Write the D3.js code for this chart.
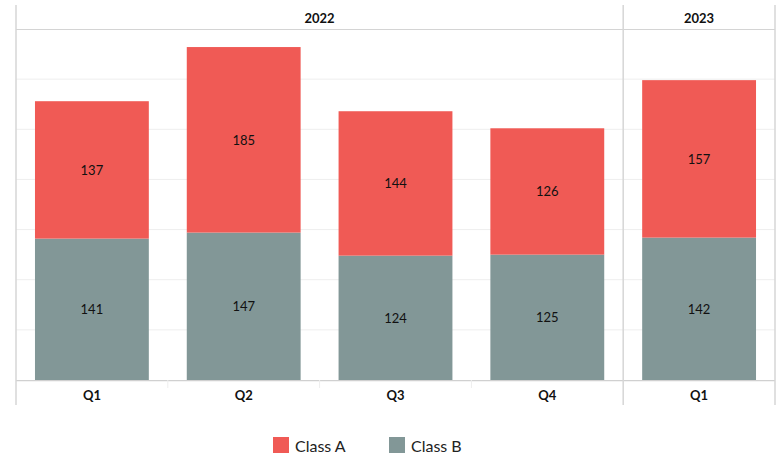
<!DOCTYPE html>
<html>
<head>
<meta charset="utf-8">
<script src="https://cdn.jsdelivr.net/npm/d3@7"></script>
<style>
  body { margin: 0; background: #fff; }
  svg { display: block; font-family: Lato, "Open Sans", sans-serif; }
</style>
</head>
<body>
<svg id="chart" width="780" height="456"></svg>
<script>
const quarters = ["Q1", "Q2", "Q3", "Q4", "Q1"];
const years = ["2022", "2022", "2022", "2022", "2023"];
const yearGroups = ["2022", "2023"];
const classA = [137, 185, 144, 126, 157];
const classB = [141, 147, 124, 125, 142];
const seriesNames = ["Class B", "Class A"];
const legendNames = ["Class A", "Class B"];
const colors = { "Class A": "#F05A55", "Class B": "#829797" };
const yTicks = [0, 50, 100, 150, 200, 250, 300, 350];

(function () {
const svg = d3.select("#chart");
const plotLeft = 16, plotRight = 775, plotTop = 29, plotBottom = 380, frameTop = 5, frameBottom = 405;

const idx = d3.range(quarters.length);
const x = d3.scaleBand().domain(idx).range([plotLeft, plotRight]).paddingInner(0.25).paddingOuter(0.125);
const xb = d3.scaleBand().domain(idx).range([plotLeft, plotRight]);
const y = d3.scaleLinear().domain([0, 350]).range([plotBottom, plotTop]);

// gridlines
svg.append("g").selectAll("line").data(yTicks.filter(t => t > 0 && t < 350)).join("line")
  .attr("x1", plotLeft).attr("x2", plotRight)
  .attr("y1", d => y(d)).attr("y2", d => y(d))
  .attr("stroke", "#eeeeee").attr("stroke-width", 1);

// header line
svg.append("line").attr("x1", plotLeft).attr("x2", plotRight).attr("y1", y(350) + 0.5).attr("y2", y(350) + 0.5)
  .attr("stroke", "#d4d4d4").attr("stroke-width", 1.2);

// stacked bars
const table = idx.map(i => ({ i, "Class A": classA[i], "Class B": classB[i] }));
const stack = d3.stack().keys(seriesNames)(table);

svg.append("g").selectAll("g").data(stack).join("g")
  .attr("fill", d => colors[d.key])
  .selectAll("rect").data(d => d).join("rect")
  .attr("x", d => x(d.data.i))
  .attr("width", x.bandwidth())
  .attr("y", d => y(d[1]))
  .attr("height", d => y(d[0]) - y(d[1]));

// value labels
svg.append("g").selectAll("g").data(stack).join("g")
  .selectAll("text").data(d => d.map(v => ({ v, key: d.key }))).join("text")
  .attr("x", d => x(d.v.data.i) + x.bandwidth() / 2)
  .attr("y", d => (y(d.v[0]) + y(d.v[1])) / 2)
  .attr("text-anchor", "middle").attr("dominant-baseline", "central")
  .attr("font-size", 13).attr("fill", "#111")
  .text(d => d.v.data[d.key]);

// baseline
svg.append("line").attr("x1", plotLeft).attr("x2", plotRight).attr("y1", plotBottom + 0.6).attr("y2", plotBottom + 0.6)
  .attr("stroke", "#d0d0d0").attr("stroke-width", 1.2);

// frame verticals: left, year dividers, right
const yearBounds = yearGroups.map(g => {
  const members = idx.filter(i => years[i] === g);
  return { g, x0: xb(members[0]), x1: xb(members[members.length - 1]) + xb.bandwidth() };
});
const verticals = [plotLeft].concat(yearBounds.map(b => b.x1));
svg.append("g").selectAll("line").data(verticals).join("line")
  .attr("x1", d => d).attr("x2", d => d)
  .attr("y1", frameTop).attr("y2", frameBottom)
  .attr("stroke", "#d6d6d6").attr("stroke-width", 1.5);

// faint quarter separators
svg.append("g").selectAll("line").data(idx.slice(1).filter(i => years[i] === years[i - 1])).join("line")
  .attr("x1", d => xb(d)).attr("x2", d => xb(d))
  .attr("y1", plotBottom).attr("y2", plotBottom + 8)
  .attr("stroke", "#eeeeee").attr("stroke-width", 1);

// quarter labels
svg.append("g").selectAll("text").data(idx).join("text")
  .attr("x", i => xb(i) + xb.bandwidth() / 2)
  .attr("y", (plotBottom + frameBottom) / 2 + 2)
  .attr("text-anchor", "middle").attr("dominant-baseline", "central")
  .attr("font-size", 13).attr("font-weight", "bold").attr("fill", "#111")
  .text(i => quarters[i]);

// year labels
svg.append("g").selectAll("text").data(yearBounds).join("text")
  .attr("x", d => (d.x0 + d.x1) / 2)
  .attr("y", (frameTop + plotTop) / 2 + 1)
  .attr("text-anchor", "middle").attr("dominant-baseline", "central")
  .attr("font-size", 13).attr("font-weight", "bold").attr("fill", "#111")
  .text(d => d.g);

// legend
const legendX = [273, 389];
const lg = svg.append("g").selectAll("g").data(legendNames).join("g")
  .attr("transform", (d, i) => `translate(${legendX[i]},437)`);
lg.append("rect").attr("width", 16).attr("height", 16).attr("fill", d => colors[d]);
lg.append("text").attr("x", 22).attr("y", 8).attr("dominant-baseline", "central")
  .attr("font-size", 16).attr("fill", "#222").text(d => d);
})();
</script>
</body>
</html>
